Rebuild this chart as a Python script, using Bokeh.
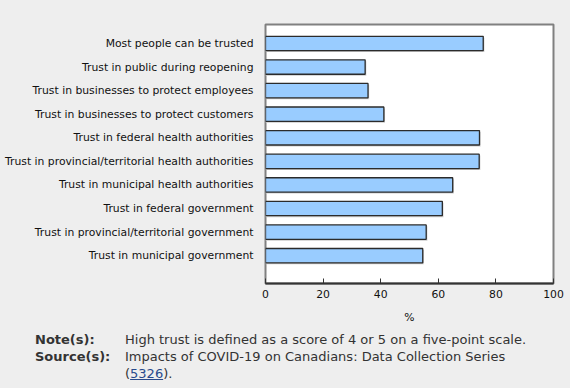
from bokeh.plotting import figure
from bokeh.models import FixedTicker, Div
from bokeh.layouts import column
from bokeh.embed import file_html
from bokeh.resources import INLINE

categories = [
    "Most people can be trusted",
    "Trust in public during reopening",
    "Trust in businesses to protect employees",
    "Trust in businesses to protect customers",
    "Trust in federal health authorities",
    "Trust in provincial/territorial health authorities",
    "Trust in municipal health authorities",
    "Trust in federal government",
    "Trust in provincial/territorial government",
    "Trust in municipal government",
]
values = [75.6, 34.6, 35.6, 41.1, 74.3, 74.2, 65.0, 61.4, 55.8, 54.6]
x_ticks = [0, 20, 40, 60, 80, 100]

n = len(categories)
ypos = [n - 1 - i for i in range(n)]

FONT = "DejaVu Sans"

p = figure(width=570, height=326, output_backend="svg", toolbar_location=None,
           x_range=(0, 100), y_range=(-1.18, 9.805),
           min_border_left=265, min_border_right=17, min_border_top=24, min_border_bottom=43)
p.border_fill_color = "#eeeeee"
p.background_fill_color = "white"
p.outline_line_color = "#808080"
p.outline_line_width = 2
p.grid.visible = False

# subtle drop shadow under each bar
p.hbar(y=[y - 0.06 for y in ypos], right=[v + 0.4 for v in values], left=0, height=0.61,
       fill_color="#cccccc", line_color=None)
p.hbar(y=ypos, right=values, left=0, height=0.61, fill_color="#99ccff",
       line_color="#2b2b2b", line_width=1.3)

p.yaxis.ticker = FixedTicker(ticks=ypos)
p.yaxis.major_label_overrides = {y: c for y, c in zip(ypos, categories)}
p.yaxis.axis_line_color = None
p.yaxis.major_tick_line_color = None
p.yaxis.minor_tick_line_color = None
p.yaxis.major_label_standoff = 6
p.yaxis.major_label_text_font = FONT
p.yaxis.major_label_text_font_size = "10.8px"
p.yaxis.major_label_text_color = "#111111"

p.xaxis.ticker = FixedTicker(ticks=x_ticks)
p.xaxis.axis_label = "%"
p.xaxis.axis_line_color = "#333333"
p.xaxis.axis_line_width = 2
p.xaxis.major_tick_in = 5
p.xaxis.major_tick_out = 0
p.xaxis.major_tick_line_color = "#333333"
p.xaxis.minor_tick_line_color = None
p.xaxis.major_label_text_font = FONT
p.xaxis.major_label_text_font_size = "10.8px"
p.xaxis.major_label_text_color = "#111111"
p.xaxis.major_label_standoff = 6
p.xaxis.axis_label_text_font = FONT
p.xaxis.axis_label_text_font_size = "10.8px"
p.xaxis.axis_label_text_font_style = "normal"
p.xaxis.axis_label_text_color = "#111111"
p.xaxis.axis_label_standoff = 10

note_html = """
<div style="font-family:'DejaVu Sans';font-size:13px;color:#333333;line-height:17px;padding:0 0 0 30px;background:#eeeeee;width:540px;">
<table style="border-collapse:collapse;">
<tr><td style="font-weight:bold;width:90px;padding:0;vertical-align:top;">Note(s):</td>
<td style="padding:0;">High trust is defined as a score of 4 or 5 on a five-point scale.</td></tr>
<tr><td style="font-weight:bold;padding:0;vertical-align:top;">Source(s):</td>
<td style="padding:0;">Impacts of COVID-19 on Canadians: Data Collection Series<br>(<span style="color:#284a8c;text-decoration:underline;">5326</span>).</td></tr>
</table></div>
"""
div = Div(text=note_html, width=570, height=62, styles={"background-color": "#eeeeee"})

layout = column(p, div, spacing=0, styles={"background-color": "#eeeeee"})
open("out.html", "w").write(file_html(layout, INLINE))
